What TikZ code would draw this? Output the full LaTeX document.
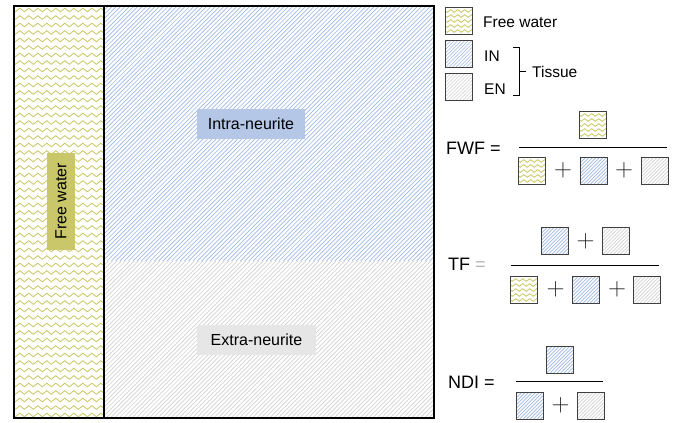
\documentclass[tikz,border=0pt]{standalone}
\usepackage{fontspec}
\setmainfont{Liberation Sans}
\usetikzlibrary{decorations.pathmorphing}

\definecolor{fwolive}{HTML}{C8C864}
\definecolor{fwlabel}{HTML}{C9C76A}
\definecolor{inblue}{HTML}{9FB8E4}
\definecolor{inlabel}{HTML}{B4C7E7}
\definecolor{engray}{HTML}{D2D2D2}
\definecolor{enlabel}{HTML}{E6E6E6}
\definecolor{sqedge}{HTML}{404040}

% wavy fill for the free water compartment
\newcommand{\wavefill}[4]{%
  \begin{scope}
    \clip (#1,#2) rectangle (#3,#4);
    \pgfmathsetmacro{\wstart}{#2+4}
    \pgfmathsetmacro{\wnext}{#2+11.5}
    \foreach \yy in {\wstart,\wnext,...,#4}
      \draw[wave] (#1-6,\yy) -- (#3+12,\yy);
  \end{scope}}

% diagonal hatching
\newcommand{\hatchfill}[6]{%
  \begin{scope}
    \clip (#1,#2) rectangle (#3,#4);
    \pgfmathsetmacro{\hh}{#4-#2}
    \pgfmathsetmacro{\hs}{#1-\hh}
    \pgfmathsetmacro{\hn}{#1-\hh+#6}
    \foreach \xx in {\hs,\hn,...,#3}
      \draw[#5, line width=0.7pt] (\xx,#4) -- ++(\hh,-\hh);
  \end{scope}}

\tikzset{
  wave/.style={fwolive, line width=0.8pt, decorate,
    decoration={snake, segment length=9pt, amplitude=1.8pt}},
  sq/.style={draw=sqedge, line width=0.9pt, fill=white, minimum size=27pt,
    inner sep=0pt},
  fwsq/.style={sq, path picture={
    \foreach \k in {1,...,5}
      \draw[wave, decoration={snake, segment length=7pt, amplitude=1.3pt}]
        ([xshift=-4pt, yshift=-\k*5pt+1pt]path picture bounding box.north west)
        -- ([xshift=10pt, yshift=-\k*5pt+1pt]path picture bounding box.north east);}},
  insq/.style={sq, path picture={
    \foreach \k in {-8,...,8}
      \draw[inblue, line width=0.7pt]
        ([xshift=\k*3.5pt]path picture bounding box.south west) -- ++(30pt,30pt);}},
  ensq/.style={sq, path picture={
    \foreach \k in {-8,...,8}
      \draw[engray, line width=0.7pt]
        ([xshift=\k*3.5pt]path picture bounding box.south west) -- ++(30pt,30pt);}},
  plus/.style={inner sep=0pt, text=black!85, font=\fontsize{24}{24}\selectfont},
  leg/.style={anchor=west, inner sep=0pt, font=\fontsize{15.5}{18}\selectfont},
  eqn/.style={anchor=west, inner sep=0pt, font=\fontsize{18}{20}\selectfont},
  tag/.style={inner sep=0pt, minimum height=30pt, font=\fontsize{16}{18}\selectfont}
}

\begin{document}
\begin{tikzpicture}[x=1pt, y=-1pt]
\useasboundingbox (0,0) rectangle (678,423);
% compartments
\wavefill{14}{6}{104}{418}
\hatchfill{104}{6}{434}{261}{inblue}{4.3}
\hatchfill{104}{261}{434}{418}{engray}{4.3}
\draw[line width=1.5pt] (14,6) rectangle (434,418);
\draw[line width=1.2pt] (104,6) -- (104,418);
\node[tag, fill=fwlabel, minimum width=97pt, minimum height=28pt, rotate=90] (fwtag) at (61,201.5) {Free water};
\node[tag, fill=inlabel, minimum width=108pt] (intag) at (251,124) {Intra-neurite};
\node[tag, fill=enlabel, minimum width=119pt] (entag) at (256.5,339.5) {Extra-neurite};
% legend
\node[fwsq] (legfw) at (459,20.5) {};
\node[insq] (legin) at (459,53.5) {};
\node[ensq] (legen) at (459,86.5) {};
\node[leg] (legfwtxt) at (483,22.5) {Free water};
\node[leg] (legintxt) at (484,56) {IN};
\node[leg] (legentxt) at (484,89) {EN};
\draw[line width=1pt] (513,47) -- (519,47) -- (519,95) -- (513,95);
\draw[line width=1pt] (519,71) -- (526,71);
\node[leg] (tissue) at (532,72) {Tissue};
% FWF
\node[eqn] (fwf) at (446,148) {FWF =};
\node[fwsq] (fwfnum) at (593,124.5) {};
\draw[line width=1pt] (519,147.7) -- (667,147.7);
\node[fwsq] (fwfd1) at (532,170.5) {};
\node[plus] (fwfp1) at (563,170.5) {$+$};
\node[insq] (fwfd2) at (593.5,170.5) {};
\node[plus] (fwfp2) at (624,170.5) {$+$};
\node[ensq] (fwfd3) at (654.5,170.5) {};
% TF
\node[eqn] (tf) at (448,264) {TF \textcolor{gray!60}{=}};
\node[insq] (tfn1) at (554.5,241) {};
\node[plus] (tfnp) at (585.5,241) {$+$};
\node[ensq] (tfn2) at (616,241) {};
\draw[line width=1pt] (511,265) -- (659,265);
\node[fwsq] (tfd1) at (524,289.5) {};
\node[plus] (tfp1) at (555.5,289.5) {$+$};
\node[insq] (tfd2) at (586,289.5) {};
\node[plus] (tfp2) at (617,289.5) {$+$};
\node[ensq] (tfd3) at (646.5,289.5) {};
% NDI
\node[eqn] (ndi) at (448,382) {NDI =};
\node[insq] (ndinum) at (560,359.5) {};
\draw[line width=1pt] (516,381.7) -- (603,381.7);
\node[insq] (ndid1) at (529.5,405.5) {};
\node[plus] (ndip) at (560.5,405.5) {$+$};
\node[ensq] (ndid2) at (590.5,405.5) {};
\end{tikzpicture}
\end{document}
